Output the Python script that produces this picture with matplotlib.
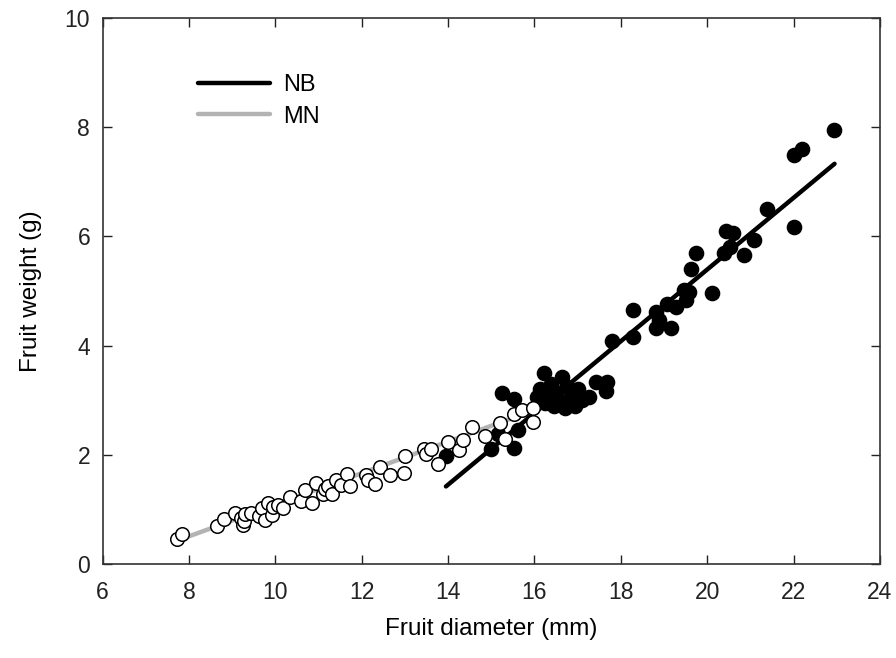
import numpy as np
import matplotlib
matplotlib.use("Agg")
import matplotlib.pyplot as plt

plt.rcParams['font.family'] = ['Liberation Sans', 'DejaVu Sans']

# MN: open circles
mn_x = [7.72, 7.84, 8.64, 8.82, 9.07, 9.21, 9.24, 9.28, 9.30, 9.44, 9.62, 9.70, 9.75,
        9.83, 9.91, 9.95, 10.06, 10.18, 10.33, 10.60, 10.68, 10.85, 10.95, 11.10, 11.15,
        11.23, 11.30, 11.41, 11.53, 11.66, 11.72, 12.09, 12.14, 12.30, 12.43, 12.66,
        12.97, 13.00, 13.45, 13.49, 13.61, 13.76, 13.99, 14.25, 14.34, 14.55, 14.86,
        15.20, 15.32, 15.52, 15.71, 15.96, 15.96]
mn_y = [0.45, 0.54, 0.70, 0.83, 0.93, 0.84, 0.71, 0.78, 0.92, 0.93, 0.88, 1.02, 0.81,
        1.11, 0.90, 1.05, 1.08, 1.03, 1.22, 1.16, 1.36, 1.12, 1.48, 1.29, 1.38,
        1.43, 1.29, 1.54, 1.45, 1.65, 1.43, 1.63, 1.54, 1.47, 1.77, 1.63,
        1.67, 1.98, 2.10, 2.01, 2.11, 1.83, 2.23, 2.08, 2.27, 2.50, 2.34,
        2.58, 2.29, 2.74, 2.82, 2.86, 2.60]

# NB: filled circles
nb_x = [13.96, 14.99, 15.15, 15.25, 15.52, 15.53, 15.61, 16.05, 16.12, 16.21, 16.25,
        16.30, 16.38, 16.45, 16.50, 16.55, 16.64, 16.70, 16.75, 16.85, 16.95, 17.00,
        17.10, 17.27, 17.42, 17.65, 17.69, 17.79, 18.29, 18.29, 18.81, 18.81, 18.89,
        19.08, 19.16, 19.27, 19.46, 19.50, 19.58, 19.62, 19.73, 20.12, 20.39, 20.43,
        20.54, 20.60, 20.85, 21.08, 21.39, 22.01, 22.01, 22.20, 22.93]
nb_y = [1.97, 2.10, 2.38, 3.14, 3.03, 2.12, 2.45, 3.05, 3.20, 3.49, 2.95,
        3.10, 3.30, 2.90, 3.15, 3.00, 3.43, 2.85, 3.25, 3.05, 2.90, 3.20,
        3.00, 3.06, 3.34, 3.16, 3.34, 4.09, 4.15, 4.66, 4.32, 4.62, 4.47,
        4.77, 4.33, 4.71, 5.02, 4.84, 4.99, 5.40, 5.69, 4.96, 5.69, 6.09,
        5.81, 6.06, 5.66, 5.93, 6.50, 6.17, 7.49, 7.61, 7.94]

# fitted lines (end points)
nb_fit_x = [13.95, 22.95]
nb_fit_y = [1.42, 7.33]
mn_fit_x = [7.70, 16.00]
mn_fit_y = [0.42, 2.82]

fig = plt.figure(figsize=(8.96, 6.58), dpi=100)
ax = fig.add_axes([0.1146, 0.1429, 0.8674, 0.8297])

ax.plot(mn_fit_x, mn_fit_y, color='#b3b3b3', lw=3.2, solid_capstyle='round', zorder=2, label='MN')
ax.scatter(nb_x, nb_y, s=105, facecolor='black', edgecolor='black', lw=1, zorder=3)
ax.plot(nb_fit_x, nb_fit_y, color='black', lw=3.2, solid_capstyle='round', zorder=4, label='NB')
ax.scatter(mn_x, mn_y, s=95, facecolor='white', edgecolor='black', lw=1.1, zorder=5)

ax.set_xlim(6, 24)
ax.set_ylim(0, 10)
ax.set_xticks(np.arange(6, 25, 2))
ax.set_yticks(np.arange(0, 11, 2))
ax.tick_params(direction='in', length=6.5, width=1, top=True, right=True,
               labelsize=16.5, colors='#222222')
ax.tick_params(axis='x', pad=12)
ax.tick_params(axis='y', pad=9)
for sp in ax.spines.values():
    sp.set_linewidth(1.2)
    sp.set_color('#333333')

ax.set_xlabel('Fruit diameter (mm)', fontsize=17.5, labelpad=10)
ax.set_ylabel('Fruit weight (g)', fontsize=17.5, labelpad=16)

h, l = ax.get_legend_handles_labels()
ax.legend(h[::-1], l[::-1], loc='upper left', bbox_to_anchor=(0.1226, 0.897),
          frameon=False, fontsize=17, handlelength=3.05, handletextpad=0.55,
          labelspacing=0.4, borderpad=0, borderaxespad=0)

fig.savefig('out.png', dpi=100)
